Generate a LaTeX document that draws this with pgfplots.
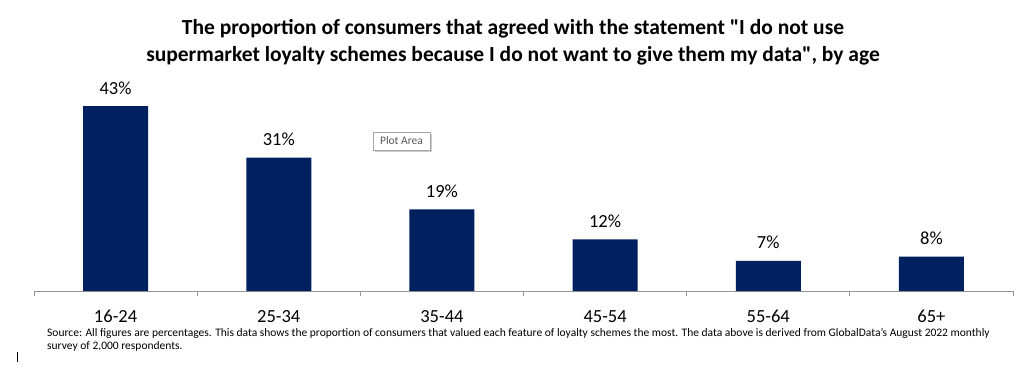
\documentclass[border=0pt]{standalone}
\usepackage{fontspec}
\setmainfont{Carlito}[Ligatures=TeXOff]
\usepackage{pgfplots}
\pgfplotsset{compat=1.18}
\definecolor{barblue}{RGB}{0,32,96}
\definecolor{axgray}{RGB}{150,150,150}
\definecolor{tipgray}{RGB}{89,89,89}
\begin{document}
\begin{tikzpicture}[x=1pt,y=1pt]
\path[use as bounding box] (0,0) rectangle (1024,370);
\begin{axis}[
 at={(34pt,79pt)}, anchor=south west,
 scale only axis, width=979pt, height=215pt,
 xmin=-0.5, xmax=5.5, ymin=0, ymax=50,
 axis x line*=bottom, axis y line=none,
 x axis line style={-, draw=axgray, line width=1pt},
 xtick={-0.5,0.5,...,5.5},
 x tick label as interval,
 xticklabels={16-24,25-34,35-44,45-54,55-64,65+},
 tick align=outside, major tick length=5pt,
 xtick style={draw=axgray, line width=1pt},
 xticklabel style={font=\fontsize{18.5}{20}\selectfont, text=black, anchor=base, yshift=-26pt},
 clip=false,
]
\addplot[ybar, bar width=65pt, fill=barblue, draw=none,
  nodes near coords={\pgfmathprintnumber[assume math mode=true]{\pgfplotspointmeta}\%},
  nodes near coords style={anchor=base, yshift=12pt, font=\fontsize{18.5}{20}\selectfont, text=black}]
  coordinates {(0,43) (1,31) (2,19) (3,12) (4,7) (5,8)};
\end{axis}
\node[anchor=base, font=\bfseries\fontsize{21.5}{26}\selectfont] at (513,335) {The proportion of consumers that agreed with the statement "I do not use};
\node[anchor=base, font=\bfseries\fontsize{21.5}{26}\selectfont] at (513,308) {supermarket loyalty schemes because I do not want to give them my data", by age};
\node[anchor=base west, inner sep=0pt, font=\fontsize{11.5}{13}\selectfont] at (47,34) {Source: All figures are percentages. This data shows the proportion of consumers that valued each feature of loyalty schemes the most. The data above is derived from GlobalData’s August 2022 monthly};
\node[anchor=base west, inner sep=0pt, font=\fontsize{11.5}{13}\selectfont] at (47,21) {survey of 2,000 respondents.};
\fill[black!20] (375,218) rectangle (432,236);
\draw[draw=black!35, fill=white] (373,220) rectangle (430,238);
\node[font=\fontsize{11.5}{13}\selectfont, text=tipgray] at (401.5,229) {Plot Area};
\draw[line width=1pt] (17,18) -- (17,8);
\end{tikzpicture}
\end{document}
